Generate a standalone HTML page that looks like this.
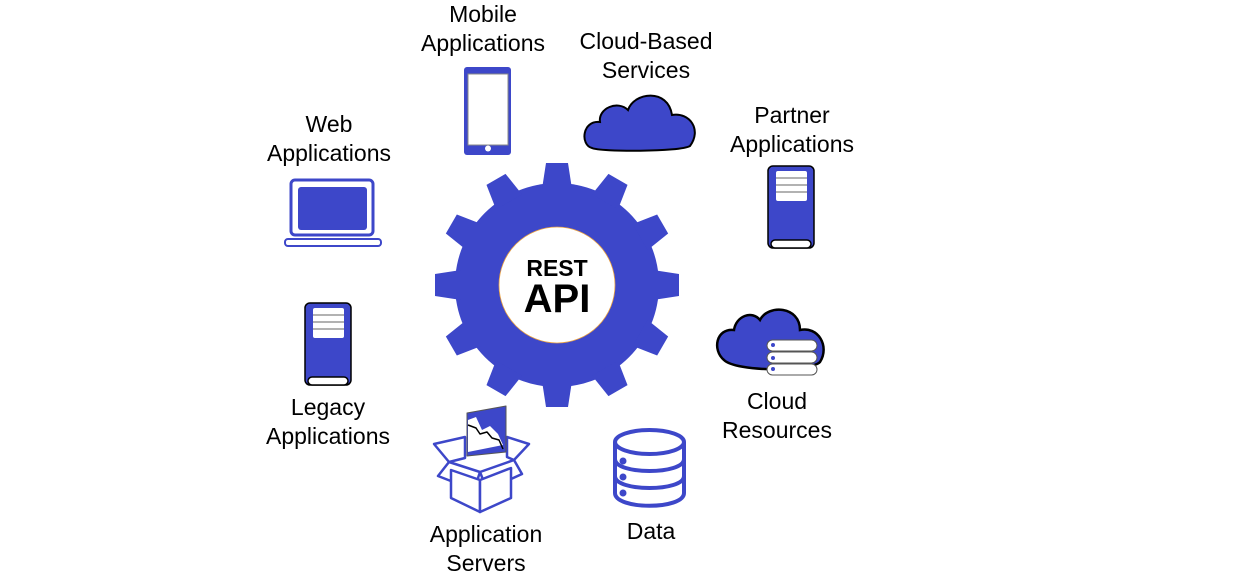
<!DOCTYPE html>
<html><head><meta charset="utf-8"><style>
html,body{margin:0;padding:0;background:#fff;}
svg{display:block}
text{font-family:"Liberation Sans",sans-serif;font-size:23px;fill:#000;text-anchor:middle}
</style></head><body>
<svg width="1248" height="576" viewBox="0 0 1248 576">
<defs>
<g id="tooth"><polygon points="-15,-96 -11,-122 11,-122 15,-96" fill="#3d47c9"/></g>
<g id="server">
<rect x="0" y="0" width="46" height="82" rx="5" fill="#3d47c9" stroke="#000" stroke-width="1.5"/>
<rect x="8" y="5" width="31" height="30" rx="2" fill="#fff"/>
<line x1="8" y1="12" x2="39" y2="12" stroke="#666" stroke-width="1"/>
<line x1="8" y1="19" x2="39" y2="19" stroke="#666" stroke-width="1"/>
<line x1="8" y1="26" x2="39" y2="26" stroke="#666" stroke-width="1"/>
<rect x="3" y="74" width="40" height="8" rx="4" fill="#fff" stroke="#000" stroke-width="1.5"/>
</g>
</defs>
<g transform="translate(557,285)">
<circle r="102" fill="#3d47c9"/>
<use href="#tooth" transform="rotate(0)"/><use href="#tooth" transform="rotate(30)"/>
<use href="#tooth" transform="rotate(60)"/><use href="#tooth" transform="rotate(90)"/>
<use href="#tooth" transform="rotate(120)"/><use href="#tooth" transform="rotate(150)"/>
<use href="#tooth" transform="rotate(180)"/><use href="#tooth" transform="rotate(210)"/>
<use href="#tooth" transform="rotate(240)"/><use href="#tooth" transform="rotate(270)"/>
<use href="#tooth" transform="rotate(300)"/><use href="#tooth" transform="rotate(330)"/>
<circle r="58" fill="#fff" stroke="#e9a040" stroke-width="0.8"/>
<text x="0" y="-9" style="font-size:23px;font-weight:bold">REST</text>
<text x="0" y="27" style="font-size:40px;font-weight:bold">API</text>
</g>
<rect x="464" y="67" width="47" height="88" rx="3" fill="#3d47c9"/>
<rect x="468" y="74" width="40" height="71" fill="#fff" stroke="#888" stroke-width="1"/>
<circle cx="488" cy="148.5" r="3" fill="#fff"/>
<path d="M592,148 C580,145 582,120 600,122 C598,108 618,100 628,110 C634,92 668,88 672,115 C690,112 702,130 690,146 C680,152 600,152 592,148 Z" fill="#3d47c9" stroke="#000" stroke-width="2"/>
<rect x="291" y="180" width="82" height="55" rx="4" fill="none" stroke="#3d47c9" stroke-width="3"/>
<rect x="298" y="187" width="69" height="43" rx="3" fill="#3d47c9"/>
<rect x="285" y="239" width="96" height="7" rx="3" fill="#fff" stroke="#3d47c9" stroke-width="2"/>
<use href="#server" x="768" y="166"/>
<use href="#server" x="305" y="303"/>
<path d="M724,360 C712,350 716,328 734,330 C736,316 752,310 760,320 C768,304 800,306 800,330 C818,326 830,346 820,362 C810,372 736,372 724,360 Z" fill="#3d47c9" stroke="#000" stroke-width="2.5"/>
<g fill="#fff" stroke="#555" stroke-width="1">
<rect x="767" y="340" width="50" height="11" rx="5.5"/>
<rect x="767" y="352" width="50" height="11" rx="5.5"/>
<rect x="767" y="364" width="50" height="11" rx="5.5"/>
</g>
<g fill="#3d47c9"><circle cx="773" cy="345" r="2"/><circle cx="773" cy="358" r="2"/><circle cx="773" cy="369" r="2"/></g>
<g fill="#fff" stroke="#3d47c9" stroke-width="2.5" stroke-linejoin="round">
<polygon points="434,444 465,437 465,458 449,462"/>
<polygon points="507,437 529,444 514,460 507,457"/>
<polygon points="467,413 506,406 506,452 467,456" fill="#3d47c9" stroke="#555" stroke-width="1"/>
<polygon points="468,420 476,417 482,430 490,426 498,434 503,445 468,452" fill="#fff" stroke="none"/>
<polyline points="468,425 476,428 480,434 487,432 492,438 499,440 503,449" fill="none" stroke="#000" stroke-width="1.5"/>
<polygon points="449,462 480,472 474,490 438,476"/>
<polygon points="480,472 514,460 522,474 487,490"/>
<polygon points="451,470 480,480 480,512 451,498"/>
<polygon points="480,480 511,468 511,498 480,512"/>
</g>
<g fill="#fff" stroke="#3d47c9" stroke-width="4">
<path d="M615,442 V493 C615,510 684,510 684,493 V442"/>
<ellipse cx="649.5" cy="442" rx="34.5" ry="12"/>
<path d="M615,459 C615,475 684,475 684,459" fill="none"/>
<path d="M615,476 C615,492 684,492 684,476" fill="none"/>
</g>
<g fill="#3d47c9"><circle cx="623" cy="461" r="3.5"/><circle cx="623" cy="477" r="3.5"/><circle cx="623" cy="493" r="3.5"/></g>
<text x="483" y="22">Mobile</text><text x="483" y="51">Applications</text>
<text x="646" y="49">Cloud-Based</text><text x="646" y="78">Services</text>
<text x="792" y="123">Partner</text><text x="792" y="152">Applications</text>
<text x="329" y="132">Web</text><text x="329" y="161">Applications</text>
<text x="328" y="415">Legacy</text><text x="328" y="444">Applications</text>
<text x="777" y="409">Cloud</text><text x="777" y="438">Resources</text>
<text x="486" y="542">Application</text><text x="486" y="571">Servers</text>
<text x="651" y="539">Data</text>
</svg>
</body></html>
